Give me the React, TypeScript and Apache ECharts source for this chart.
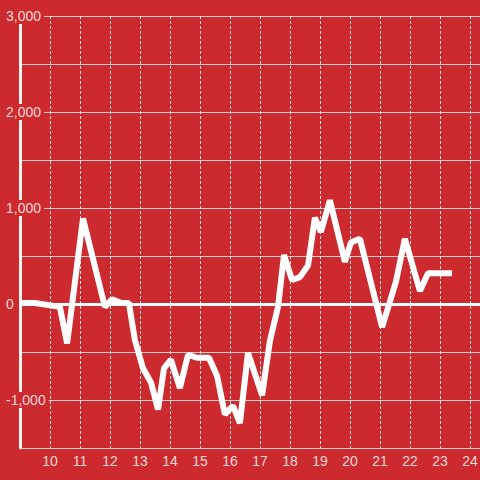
import React, { useEffect, useRef } from "react";
import * as echarts from "echarts";

const xValues = [9.0, 9.5, 10.33, 10.57, 11.1, 11.83, 12.07, 12.37, 12.63, 12.83, 13.1, 13.37, 13.6, 13.8, 14.03, 14.33, 14.6, 14.9, 15.3, 15.57, 15.83, 16.1, 16.33, 16.6, 17.07, 17.33, 17.6, 17.8, 18.07, 18.33, 18.6, 18.83, 19.03, 19.33, 19.83, 20.03, 20.33, 21.07, 21.53, 21.83, 22.33, 22.6, 23.4];
const yValues = [10, 10, -30, -410, 890, -30, 50, 10, 10, -375, -670, -820, -1100, -670, -580, -875, -530, -560, -560, -750, -1150, -1060, -1240, -510, -950, -385, -30, 510, 250, 280, 400, 900, 750, 1080, 440, 640, 680, -240, 230, 680, 135, 320, 320];

const X_MIN = 9;
const X_MAX = 25;
const X_LAST_LABEL = 24;
const Y_MIN = -1500;
const Y_MAX = 3000;

const BG = "#cc2a2f";
const LABEL = "rgba(255,255,255,0.82)";
const FONT = "Liberation Sans, Arial, sans-serif";

export default function App() {
  const ref = useRef<HTMLDivElement>(null);
  useEffect(() => {
    if (!ref.current) return;
    const chart = echarts.init(ref.current, undefined, { renderer: "svg" });
    const data = xValues.map((x, i) => [x, yValues[i]]);
    chart.setOption({
      animation: false,
      backgroundColor: BG,
      grid: { left: 20, right: 0, top: 16, bottom: 32 },
      xAxis: {
        type: "value",
        min: X_MIN,
        max: X_MAX,
        interval: 1,
        axisLine: { show: true, onZero: false, lineStyle: { color: "#cfcfcf", width: 1 } },
        axisTick: { show: false },
        axisLabel: {
          color: LABEL,
          fontSize: 14,
          fontFamily: FONT,
          margin: 6,
          showMinLabel: false,
          showMaxLabel: false,
          formatter: (v: number) => (v > X_MIN && v <= X_LAST_LABEL ? String(Math.round(v)) : ""),
        },
        splitLine: { show: true, lineStyle: { color: "#e2e2e2", width: 1, type: [3, 2] } },
      },
      yAxis: {
        type: "value",
        min: Y_MIN,
        max: Y_MAX,
        interval: 500,
        axisLine: { show: true, lineStyle: { color: "#f4f4f4", width: 3 } },
        axisTick: { show: false },
        axisLabel: {
          color: LABEL,
          fontSize: 14,
          fontFamily: FONT,
          align: "left",
          margin: 14,
          backgroundColor: BG,
          padding: [1, 3, 1, 0],
          formatter: (v: number) => (v % 1000 === 0 ? v.toLocaleString("en-US") : ""),
        },
        splitLine: { show: true, lineStyle: { color: "#cfcfcf", width: 1 } },
      },
      series: [
        {
          type: "line",
          data,
          showSymbol: false,
          symbol: "none",
          lineStyle: { color: "#ffffff", width: 6 },
          z: 5,
          markLine: {
            silent: true,
            symbol: "none",
            label: { show: false },
            lineStyle: { color: "#ffffff", width: 3, type: "solid" },
            data: [{ yAxis: 0 }],
            z: 3,
          },
        },
      ],
    });
    return () => chart.dispose();
  }, []);
  return (
    <div
      style={{
        position: "fixed",
        left: 0,
        top: 0,
        width: 480,
        height: 480,
        overflow: "hidden",
        background: BG,
      }}
    >
      <div ref={ref} style={{ width: 500, height: 480 }} />
    </div>
  );
}
